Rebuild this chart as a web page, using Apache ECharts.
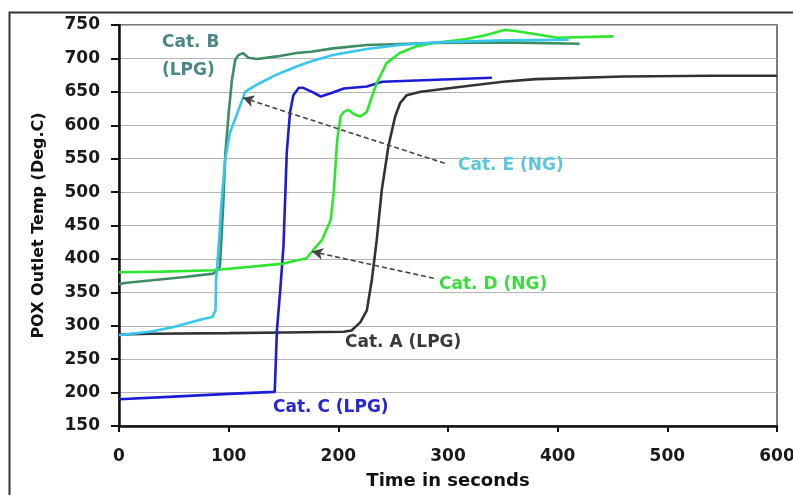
<!DOCTYPE html>
<html>
<head>
<meta charset="utf-8">
<script src="https://cdn.jsdelivr.net/npm/echarts@6/dist/echarts.min.js"></script>
<style>
  html, body { margin: 0; padding: 0; background: #fff; }
  #chart { width: 793px; height: 495px; }
</style>
</head>
<body>
<div id="chart"></div>
<script>
  // time (s), temperature (Deg.C) pairs
  var catA = [[0,287],[30,288],[100,289],[150,290],[205,291],[212,293],[220,305],[226,323],[230.5,368],[235,428],[239.6,503],[245.7,569],[251.8,613],[256.3,633],[262.4,645],[275,650],[314,658],[350,665],[380,669],[460,673],[540,674],[600,674]];
  var catB = [[0,362],[5,364],[30,368],[60,373],[86,378],[92,388],[95,480],[97,558],[100,618],[103,668],[106,698],[109,705],[113,708],[118,701],[126,699],[144,703],[162,708],[175,710],[195,715],[226,720],[287,723],[350,724],[420,722]];
  var catC = [[0,190],[50,194],[100,198],[142,201],[144,293],[147,353],[150,420],[153,560],[156,620],[159,645],[164,656],[168,656],[176,650],[184,643],[195,649],[205,655],[226,658],[240,665],[290,668],[340,671]];
  var catD = [[0,380],[40,381],[86,383],[150,393],[171,401],[177,413],[185,428],[193,458],[196,503],[197.5,543],[199,578],[202,613],[205,620],[209,623],[215,616],[220,613],[226,620],[230,640],[235,663],[244,693],[256,708],[271,718],[287,723],[317,729],[335,735],[352,743],[366,740],[400,731],[451,733]];
  var catE = [[0,286],[28,291],[50,298],[74,309],[85,313],[88,323],[88.5,368],[90.6,413],[93.7,488],[96.7,548],[101,588],[109,623],[115,650],[126,661],[144,676],[162,688],[174,695],[195,705],[226,714],[256,720],[290,724],[350,727],[410,728]];

  // dashed pointer arrows: [from, to] in data units
  var arrowE = [[297,543],[113,641]];
  var arrowD = [[287,371],[176,411]];

  var xTicks = [0, 100, 200, 300, 400, 500, 600];
  var yTicks = [150, 200, 250, 300, 350, 400, 450, 500, 550, 600, 650, 700, 750];

  var font = 'DejaVu Sans';

  var dom = document.getElementById('chart');
  var myChart = echarts.init(dom, null, { renderer: 'canvas' });

  function line(name, data, color) {
    return {
      name: name,
      type: 'line',
      data: data,
      showSymbol: false,
      symbol: 'none',
      lineStyle: { color: color, width: 2.6 },
      z: 3
    };
  }

  function arrow(pair) {
    return {
      silent: true,
      symbol: ['none', 'arrow'],
      symbolSize: [9, 11],
      label: { show: false },
      lineStyle: { color: '#444', type: [5, 3], width: 1.6 },
      data: [[{ coord: pair[0] }, { coord: pair[1] }]]
    };
  }

  function label(text, x, y, color) {
    return {
      type: 'text',
      left: x,
      top: y,
      z: 10,
      style: { text: text, fill: color, font: 'bold 17px "DejaVu Sans"' }
    };
  }

  var seriesE = line('Cat. E (NG)', catE, '#36c6ee');
  seriesE.markLine = arrow(arrowE);
  var seriesD = line('Cat. D (NG)', catD, '#2ee62e');
  seriesD.markLine = arrow(arrowD);

  var option = {
    animation: false,
    backgroundColor: '#fff',
    grid: {
      left: 119, right: 16, top: 25, bottom: 69,
      containLabel: false,
      outerBoundsMode: 'none',
      show: true, borderColor: '#7a7a7a', borderWidth: 2
    },
    xAxis: {
      type: 'value',
      min: xTicks[0], max: xTicks[xTicks.length - 1], interval: 100,
      name: 'Time in seconds',
      nameLocation: 'middle',
      nameGap: 46,
      nameTextStyle: { fontFamily: font, fontWeight: 'bold', fontSize: 18, color: '#111' },
      axisLine: { lineStyle: { color: '#111', width: 2.5 } },
      axisTick: { show: true, length: 6, lineStyle: { color: '#111', width: 2 } },
      axisLabel: { margin: 22, fontFamily: font, fontWeight: 'bold', fontSize: 17, color: '#1a1a1a' },
      splitLine: { show: false }
    },
    yAxis: {
      type: 'value',
      min: yTicks[0], max: yTicks[yTicks.length - 1], interval: 50,
      name: 'POX Outlet Temp (Deg.C)',
      nameLocation: 'middle',
      nameGap: 72,
      nameTextStyle: { fontFamily: font, fontWeight: 'bold', fontSize: 16, color: '#111' },
      axisLine: { show: true, lineStyle: { color: '#111', width: 2.5 } },
      axisTick: { show: true, length: 8, lineStyle: { color: '#111', width: 2 } },
      axisLabel: { margin: 19, fontFamily: font, fontWeight: 'bold', fontSize: 17, color: '#1a1a1a' },
      splitLine: { show: true, lineStyle: { color: '#b4b4b4', width: 1.2 } }
    },
    series: [
      line('Cat. A (LPG)', catA, '#333333'),
      line('Cat. B (LPG)', catB, '#3c8c64'),
      line('Cat. C (LPG)', catC, '#1c1cd6'),
      seriesD,
      seriesE
    ],
    graphic: [
      {
        type: 'rect', left: 7, top: 10, z: 0, silent: true,
        shape: { width: 800, height: 500 },
        style: { fill: 'none', stroke: '#333', lineWidth: 2 }
      },
      label('Cat. B', 162, 34, '#4a8888'),
      label('(LPG)', 162, 62, '#4a8888'),
      label('Cat. E (NG)', 458, 157, '#5cc6dc'),
      label('Cat. D (NG)', 439, 276, '#3ddc3d'),
      label('Cat. A (LPG)', 345, 334, '#3a3a3a'),
      label('Cat. C (LPG)', 273, 399, '#2626cc')
    ]
  };

  if (option && typeof option === 'object') {
    myChart.setOption(option);
  }

  window.addEventListener('resize', myChart.resize);
</script>
</body>
</html>
